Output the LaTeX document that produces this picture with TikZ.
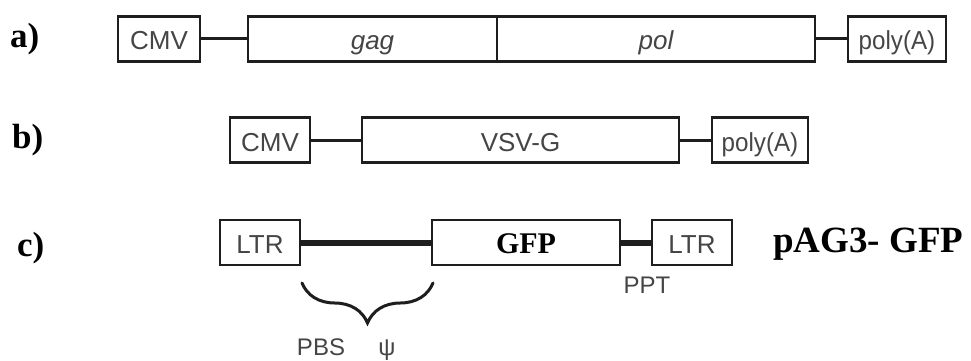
\documentclass[tikz,border=0pt]{standalone}
\usepackage{fontspec}
\setmainfont{Liberation Serif}
\setsansfont{Liberation Sans}
\usetikzlibrary{decorations.pathreplacing}
\definecolor{ink}{HTML}{1E1E1E}
\definecolor{labelgray}{HTML}{454545}
\tikzset{
  gene/.style={draw=ink, line width=2.2pt, inner sep=0pt, outer sep=0pt,
    minimum height=45pt, text height=24pt, text depth=2pt, text=labelgray,
    font=\sffamily\fontsize{26}{28}\selectfont},
  link/.style={draw=ink, line width=3pt},
  thicklink/.style={draw=ink, line width=6pt},
  rowlabel/.style={inner sep=0pt, anchor=west, text=black,
    font=\bfseries\fontsize{35}{37}\selectfont},
  note/.style={inner sep=0pt, text=labelgray,
    font=\sffamily\fontsize{24}{26}\selectfont},
}
\newcommand{\tightpoly}{\scalebox{0.93}[1]{poly(A)}}
\begin{document}
\begin{tikzpicture}[x=1pt, y=-1pt]
  \useasboundingbox[fill=white] (0,0) rectangle (971,361);

  % a) gag-pol packaging construct
  \node[rowlabel] (la) at (10,39) {a)};
  \node[gene, minimum width=82pt]  (cmvA)  at (159,39)   {CMV};
  \node[gene, minimum width=249pt] (gag)   at (372.5,39) {\itshape gag};
  \node[gene, minimum width=318pt] (pol)   at (656,39)   {\itshape pol};
  \node[gene, minimum width=98pt]  (polyA) at (897,39)   {\tightpoly};
  \draw[link] (cmvA.east) -- (gag.west);
  \draw[link] (pol.east) -- (polyA.west);

  % b) envelope construct
  \node[rowlabel] (lb) at (12,140) {b)};
  \node[gene, minimum width=80pt]  (cmvB)  at (270,140)   {CMV};
  \node[gene, minimum width=317pt] (vsvg)  at (520.5,140) {VSV-G};
  \node[gene, minimum width=96pt]  (polyB) at (760,140)   {\tightpoly};
  \draw[link] (cmvB.east) -- (vsvg.west);
  \draw[link] (vsvg.east) -- (polyB.west);

  % c) transfer vector
  \node[rowlabel] (lc) at (17,248) {c)};
  \node[gene, minimum width=80pt]  (ltrL) at (260,242.5) {LTR};
  \node[gene, minimum width=188pt, text=black,
        font=\bfseries\fontsize{30}{32}\selectfont] (gfp) at (526,242.5) {GFP};
  \node[gene, minimum width=80pt]  (ltrR) at (692,242.5) {LTR};
  \draw[thicklink] (ltrL.east) -- (gfp.west);
  \draw[thicklink] (gfp.east) -- (ltrR.west);
  \node[rowlabel, font=\bfseries\fontsize{37}{39}\selectfont] (name) at (773,244) {pAG3- GFP};

  % PPT and the PBS/psi region
  \node[note] (ppt) at (647,285) {PPT};
  \coordinate (braceL) at (302,283);
  \coordinate (braceR) at (433,283);
  \draw[ink, line width=3pt, line cap=round,
        decoration={brace, mirror, amplitude=40pt, aspect=0.5}, decorate]
        (braceL) -- (braceR);
  \node[note, anchor=base] (pbs) at (321,355) {PBS};
  \node[note, anchor=base] (psi) at (387,355) {ψ};
\end{tikzpicture}
\end{document}
